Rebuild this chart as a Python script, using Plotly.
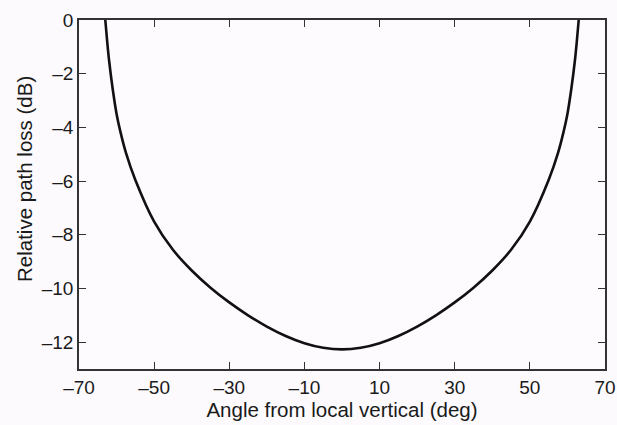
import plotly.graph_objects as go

# Right-half readings (curve is symmetric about 0 deg)
half_angles = [0, 5, 10, 15, 20, 25, 30, 35, 40, 45, 50, 55, 57.5, 59, 60, 61, 62, 62.5, 63]
half_loss = [-12.27, -12.21, -12.04, -11.77, -11.42, -11.0, -10.52, -9.97, -9.33, -8.56, -7.51, -5.96, -4.95, -4.15, -3.5, -2.6, -1.5, -0.8, 0.0]

angles = [-a for a in reversed(half_angles[1:])] + half_angles
loss = list(reversed(half_loss[1:])) + half_loss

x_ticks = [-70, -50, -30, -10, 10, 30, 50, 70]
y_ticks = [0, -2, -4, -6, -8, -10, -12]

FONT = "Liberation Sans, Arial, Helvetica, sans-serif"
TXT = "#1a1a1a"

fig = go.Figure()
fig.add_trace(go.Scatter(x=angles, y=loss, mode="lines",
                         line=dict(color="#111111", width=2.6, shape="spline", smoothing=1.0),
                         showlegend=False, hoverinfo="skip"))

axis_common = dict(showgrid=False, zeroline=False, showline=True, linecolor="#333333", linewidth=1.5,
                   mirror="allticks", ticks="inside", ticklen=7, tickcolor="#333333", tickwidth=1.2,
                   automargin=False,
                   tickfont=dict(family=FONT, size=19, color=TXT))

fig.update_xaxes(range=[-70, 70], tickvals=x_ticks, ticktext=[f"{v}".replace("-", "\u2013") for v in x_ticks],
                 title=dict(text="Angle from local vertical (deg)", standoff=6,
                            font=dict(family=FONT, size=20.5, color=TXT)),
                 **axis_common)
fig.update_yaxes(range=[-13, 0], tickvals=y_ticks, ticktext=[f"{v}".replace("-", "\u2013") for v in y_ticks],
                 **axis_common)

# y-axis title placed as an annotation (it sits slightly above the plot's vertical centre)
fig.add_annotation(text="Relative path loss (dB)", textangle=-90, showarrow=False,
                   xref="paper", yref="paper", x=(24 - 79) / 526, y=(369 - 179) / 349,
                   xanchor="center", yanchor="middle",
                   font=dict(family=FONT, size=20.5, color=TXT))

fig.update_layout(width=617, height=425, margin=dict(l=79, r=12, t=20, b=56, autoexpand=False),
                  paper_bgcolor="#fcfafc", plot_bgcolor="#fdfbfd")

fig.write_html("out.html", config={"displayModeBar": False},
               post_script="document.body.style.margin='0';document.body.style.overflow='hidden';")
